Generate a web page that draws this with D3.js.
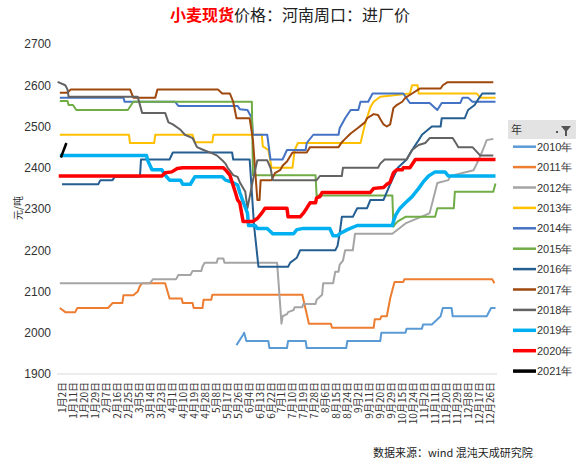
<!DOCTYPE html>
<html><head><meta charset="utf-8">
<script src="https://cdn.jsdelivr.net/npm/d3@7/dist/d3.min.js"></script>
<style>body{margin:0;background:#fff}svg{display:block}</style>
</head><body>
<svg id="c" width="576" height="467"></svg>
<script>
const xLabels = ["1月2日","1月11日","1月20日","1月29日","2月7日","2月16日","2月25日","3月5日","3月14日","3月23日","4月1日","4月10日","4月19日","4月28日","5月8日","5月17日","5月26日","6月4日","6月13日","6月22日","7月1日","7月10日","7月19日","7月28日","8月6日","8月15日","8月24日","9月2日","9月11日","9月20日","9月29日","10月15日","10月24日","11月2日","11月11日","11月20日","11月29日","12月8日","12月17日","12月26日"];
const yTicks = [1900,2000,2100,2200,2300,2400,2500,2600,2700];
const years = ["2010年","2011年","2012年","2013年","2014年","2015年","2016年","2017年","2018年","2019年","2020年","2021年"];
const colors = ["#5B9BD5","#ED7D31","#A5A5A5","#FFC000","#4472C4","#70AD47","#255E91","#9E480E","#636363","#00B0F0","#FF0000","#000000"];

// [position on the date axis (label index), price]
const s2010 = [[15.9,1970],[16.5,1995],[16.6,2000],[16.8,1980],[18.8,1980],[18.9,1963],[20.5,1963],[20.6,1980],[22.2,1980],[22.3,1963],[25.9,1963],[26.0,1980],[29.0,1980],[29.1,2000],[31.3,2000],[31.4,2010],[32.8,2010],[32.9,2020],[33.7,2020],[34.5,2040],[34.7,2060],[35.5,2060],[35.6,2040],[38.7,2040],[39.1,2060],[39.5,2060]];
const s2011 = [[-0.2,2060],[0.3,2050],[1.2,2050],[1.4,2060],[4.2,2060],[4.6,2072],[5.5,2072],[5.6,2091],[6.5,2091],[6.9,2100],[7.1,2113],[7.3,2120],[9.4,2120],[9.8,2083],[10.9,2083],[11.0,2072],[11.9,2072],[12.0,2060],[12.8,2060],[12.9,2080],[13.6,2080],[13.7,2092],[21.9,2092],[22.5,2022],[24.5,2022],[24.6,2012],[28.4,2012],[28.5,2033],[29.0,2033],[29.1,2040],[29.6,2040],[29.9,2083],[30.3,2123],[31.1,2123],[31.2,2130],[39.2,2130],[39.4,2120]];
const s2012 = [[-0.2,2120],[8.0,2120],[8.3,2130],[10.4,2130],[10.6,2140],[11.7,2140],[11.9,2150],[12.7,2150],[12.8,2160],[13.0,2170],[14.1,2170],[14.2,2180],[14.7,2180],[14.8,2170],[19.6,2170],[20.0,2022],[20.1,2040],[20.5,2045],[20.6,2050],[21.1,2055],[21.2,2062],[21.9,2062],[22.0,2070],[23.1,2070],[23.2,2080],[23.7,2092],[23.8,2120],[24.7,2120],[24.9,2148],[25.2,2148],[25.3,2165],[25.6,2175],[25.8,2200],[26.5,2200],[26.7,2240],[30.1,2240],[31.3,2265],[33.1,2285],[33.5,2290],[34.2,2363],[35.2,2370],[35.4,2380],[37.5,2394],[37.8,2410],[38.3,2440],[38.7,2467],[39.3,2470]];
const s2013 = [[-0.2,2480],[6.1,2480],[6.2,2460],[8.4,2460],[8.5,2480],[11.9,2480],[12.1,2462],[13.7,2462],[13.8,2480],[18.2,2480],[18.3,2452],[18.8,2443],[19.1,2400],[21.0,2400],[21.2,2443],[21.5,2460],[27.2,2460],[27.6,2505],[28.1,2547],[28.4,2560],[29.0,2572],[31.7,2580],[31.9,2600],[32.4,2600],[32.5,2580],[37.8,2580],[38.1,2570],[39.5,2570]];
const s2014 = [[-0.2,2570],[5.6,2570],[5.7,2560],[10.3,2560],[10.6,2550],[16.0,2550],[16.2,2542],[16.9,2540],[17.3,2520],[17.4,2480],[18.7,2480],[19.0,2420],[20.1,2420],[20.5,2443],[22.2,2443],[22.3,2460],[22.9,2480],[25.2,2480],[25.3,2496],[25.8,2520],[26.3,2540],[27.0,2540],[27.2,2560],[27.9,2560],[28.3,2580],[31.1,2580],[31.7,2557],[33.5,2557],[34.2,2540],[34.6,2557],[36.3,2557],[36.5,2570],[37.0,2570],[37.4,2560],[39.5,2560]];
const s2015 = [[-0.2,2562],[0.5,2562],[0.6,2552],[1.0,2552],[1.3,2540],[6.0,2540],[6.5,2560],[17.3,2560],[17.4,2382],[23.1,2382],[23.2,2333],[30.1,2333],[30.2,2257],[30.4,2265],[30.6,2270],[31.3,2281],[34.0,2281],[34.2,2302],[35.7,2302],[35.8,2342],[39.3,2342],[39.5,2362]];
const s2016 = [[0,2360],[3.3,2360],[3.5,2370],[4.6,2370],[4.8,2378],[7.1,2378],[7.2,2420],[9.8,2420],[10.1,2437],[15.5,2437],[15.6,2420],[17.1,2420],[17.5,2260],[17.9,2160],[20.6,2160],[20.8,2170],[21.4,2182],[21.7,2200],[24.9,2200],[25.1,2210],[25.3,2240],[25.5,2281],[26.5,2281],[26.9,2302],[27.8,2302],[28.1,2322],[29.3,2322],[29.9,2360],[30.6,2400],[31.4,2420],[31.9,2443],[32.5,2467],[32.8,2480],[33.7,2500],[34.5,2500],[34.6,2520],[36.7,2520],[37.0,2540],[37.6,2552],[37.9,2565],[38.3,2580],[39.5,2580]];
const s2017 = [[-0.2,2582],[0.5,2582],[0.8,2590],[6.2,2590],[6.5,2570],[8.5,2570],[8.7,2590],[14.2,2590],[14.6,2580],[15.3,2580],[15.6,2560],[15.9,2520],[17.1,2520],[17.4,2467],[17.8,2322],[18.0,2322],[18.1,2370],[19.1,2370],[19.4,2387],[19.9,2395],[20.1,2405],[20.5,2415],[21.0,2437],[22.3,2437],[22.6,2450],[25.2,2450],[25.5,2462],[25.8,2470],[26.3,2483],[26.9,2495],[27.6,2510],[27.8,2520],[28.4,2530],[28.8,2528],[29.0,2518],[29.3,2505],[29.6,2500],[29.9,2505],[30.2,2545],[30.5,2552],[31.0,2560],[31.3,2570],[31.9,2580],[32.6,2592],[34.5,2592],[34.7,2600],[35.1,2607],[39.3,2607]];
const s2018 = [[-0.4,2608],[0.3,2600],[0.5,2590],[0.6,2572],[6.9,2572],[7.3,2533],[9.4,2533],[9.7,2510],[10.1,2505],[10.8,2492],[11.2,2480],[11.9,2472],[12.3,2450],[12.9,2443],[13.7,2435],[14.1,2430],[14.6,2418],[14.9,2410],[15.1,2400],[15.6,2382],[16.0,2378],[16.2,2365],[16.7,2342],[16.9,2302],[17.4,2370],[17.8,2418],[18.7,2418],[19.0,2400],[19.2,2370],[23.2,2370],[23.5,2380],[25.5,2380],[25.6,2400],[28.8,2400],[29.0,2410],[29.4,2420],[31.4,2420],[31.9,2443],[32.5,2455],[33.1,2460],[33.5,2472],[35.6,2472],[36.0,2455],[36.1,2450],[37.4,2450],[38.1,2430],[39.3,2430]];
const s2019 = [[-0.2,2430],[7.7,2430],[7.8,2418],[8.2,2395],[9.1,2395],[9.4,2382],[9.8,2370],[10.8,2370],[11.0,2360],[11.7,2360],[12.1,2378],[14.6,2378],[14.9,2370],[15.5,2365],[16.0,2358],[16.2,2340],[16.5,2318],[16.9,2290],[17.0,2260],[17.6,2260],[17.8,2253],[18.7,2253],[19.2,2240],[21.1,2240],[21.4,2250],[22.0,2253],[24.4,2253],[24.7,2235],[25.1,2235],[25.3,2240],[26.0,2250],[26.9,2260],[30.1,2260],[30.2,2270],[30.4,2285],[30.8,2302],[31.3,2315],[31.9,2330],[32.5,2350],[32.9,2365],[33.4,2380],[34.0,2390],[34.9,2390],[35.2,2380],[39.5,2380]];
const s2020 = [[-0.3,2380],[9.1,2380],[9.4,2388],[10.0,2390],[10.5,2398],[11.0,2400],[14.7,2400],[15.0,2392],[15.3,2382],[15.8,2340],[16.0,2322],[16.2,2315],[16.5,2270],[17.4,2270],[17.8,2277],[18.2,2290],[18.5,2302],[20.5,2302],[20.6,2281],[21.7,2281],[22.0,2290],[22.3,2302],[22.6,2315],[23.1,2315],[23.2,2327],[23.5,2330],[23.7,2340],[28.1,2340],[28.4,2350],[29.3,2352],[29.6,2360],[29.9,2365],[30.2,2388],[30.5,2395],[31.0,2395],[31.1,2400],[31.7,2400],[32.2,2420],[39.5,2420]];
const s2021 = [[-0.1,2425],[0.4,2460]];
const seriesData = [s2010,s2011,s2012,s2013,s2014,s2015,s2016,s2017,s2018,s2019,s2020,s2021];
const widths = [2,2,2,2,2,2,2,2,2,3.5,3.5,2.5];

const svg = d3.select("#c");
const x = d3.scaleLinear().domain([0, xLabels.length-1]).range([62, 490]);
const y = d3.scaleLinear().domain([1900, 2700]).range([374, 44]);

// title
const title = svg.append("text").attr("x", 290).attr("y", 21).attr("text-anchor","middle")
  .style("font-family","'Noto Sans CJK SC'").style("font-size","16px");
title.append("tspan").attr("fill","#FF0000").attr("font-weight","bold").text("小麦现货");
title.append("tspan").attr("fill","#222").text("价格：河南周口：进厂价");

// bottom gridline
svg.append("line").attr("x1",57).attr("x2",497).attr("y1",y(1900)).attr("y2",y(1900))
  .attr("stroke","#D9D9D9").attr("stroke-width",1);

// y axis
const yAxis = d3.axisLeft(y).tickValues(yTicks).tickSize(0).tickPadding(0).tickFormat(d3.format("d"));
const yg = svg.append("g").attr("transform","translate(51,0)").call(yAxis);
yg.select(".domain").remove();
yg.selectAll("text").style("font-family","'Liberation Sans Narrow','Liberation Sans',sans-serif")
  .style("font-size","12px").attr("fill","#333");

svg.append("text").attr("transform","translate(22,208) rotate(-90)").attr("text-anchor","middle")
  .style("font-family","'Noto Sans CJK SC'").style("font-size","10px").attr("fill","#333").text("元/吨");

// x axis
const xAxis = d3.axisBottom(x).tickValues(d3.range(xLabels.length)).tickSize(0).tickPadding(0)
  .tickFormat(i => xLabels[i]);
const xg = svg.append("g").attr("transform","translate(0,382)").call(xAxis);
xg.select(".domain").remove();
xg.selectAll("text").attr("transform","rotate(-90)").attr("text-anchor","end")
  .attr("x",0).attr("y",0).attr("dy","0.35em").attr("dx","0")
  .style("font-family","'Noto Sans CJK SC'").style("font-size","10px").attr("fill","#333");

// lines
const line = d3.line().x(d => x(d[0])).y(d => y(d[1]));
seriesData.forEach((s, k) => {
  svg.append("path").datum(s).attr("d", line).attr("fill","none")
    .attr("stroke", colors[k]).attr("stroke-width", widths[k]).attr("stroke-linejoin","round");
});

// legend
const lg = svg.append("g");
lg.append("rect").attr("x",508).attr("y",120).attr("width",68).attr("height",19).attr("fill","#E3E3E3");
lg.append("text").attr("x",511).attr("y",134).style("font-family","'Noto Sans CJK SC'")
  .style("font-size","11px").attr("fill","#333").text("年");
lg.append("path").attr("d","M561,126 h10 l-4,5 v5 h-2 v-5 z").attr("fill","#555");
lg.append("rect").attr("x",556).attr("y",131).attr("width",2).attr("height",2).attr("fill","#555");
years.forEach((yr, k) => {
  const yy = 146.7 + k*20.4;
  lg.append("line").attr("x1",513).attr("x2",536).attr("y1",yy).attr("y2",yy)
    .attr("stroke",colors[k]).attr("stroke-width", k>=9 ? 3.5 : 2.5);
  lg.append("text").attr("x",537).attr("y",yy+4).style("font-family","'Liberation Sans Narrow','Liberation Sans',sans-serif")
    .style("font-size","11px").attr("fill","#333").text(yr);
});

// source
svg.append("text").attr("x",373).attr("y",457).style("font-family","'Noto Sans CJK SC'")
  .style("font-size","11px").attr("fill","#222").text("数据来源：wind 混沌天成研究院");
</script>
</body></html>
